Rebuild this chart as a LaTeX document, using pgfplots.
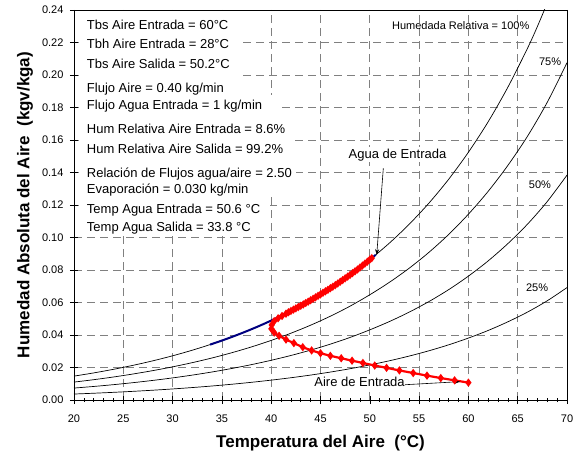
\documentclass[border=0pt]{standalone}
\usepackage{pgfplots}
\pgfplotsset{compat=1.18}
\usepackage{fontspec}
\setmainfont{Liberation Sans}
\usetikzlibrary{arrows.meta}
\definecolor{navyb}{RGB}{0,0,128}
\begin{document}
\begin{tikzpicture}
\begin{axis}[
 name=ax,
 width=493pt,height=390pt,scale only axis,
 xmin=20,xmax=70,ymin=0,ymax=0.24,
 xtick={20,25,...,70},
 ytick={0,0.02,0.04,0.06,0.08,0.10,0.12,0.14,0.16,0.18,0.20,0.22,0.24},
 minor x tick num=4,
 xtick pos=bottom, ytick pos=left,
 tick align=center, major tick length=8pt, minor tick length=4pt,
 tick style={black, line width=0.6pt},
 grid=major,
 major grid style={gray, line width=0.7pt, dash pattern=on 8pt off 5pt},
 axis line style={black,line width=0.9pt},
 /pgf/number format/assume math mode=true,
 ticklabel style={font=\fontsize{11}{13}\selectfont},
 yticklabel style={xshift=-3pt,/pgf/number format/.cd,fixed,fixed zerofill,precision=2},
 xticklabel style={yshift=-7pt},
 xlabel={\textbf{Temperatura del Aire\ \ (°C)}},
 ylabel={\textbf{Humedad Absoluta del Aire\ \ (kgv/kga)}},
 label style={font=\fontsize{17}{20}\selectfont},
 xlabel style={at={(axis description cs:0.5,-0.110)},anchor=center},
 ylabel style={at={(axis description cs:-0.0994,0.5)},anchor=center},
]
% Relative humidity curves
\addplot[black, line width=0.7pt, smooth] coordinates {
(20,0.014698)(22,0.016672)(24,0.018880)(26,0.021353)(28,0.024117)(30,0.027205)
(32,0.030654)(34,0.034495)(36,0.038783)(38,0.043563)(40,0.048890)(42,0.054806)
(44,0.061396)(46,0.068759)(48,0.077010)(50,0.086350)(52,0.096633)(54,0.108182)
(56,0.121183)(58,0.135848)(60,0.152463)(62,0.171165)(64,0.192454)(66,0.216511)
(67,0.229884)(68,0.244324)};
\addplot[black, line width=0.7pt, smooth] coordinates {
(20,0.011024)(22,0.012504)(24,0.014160)(26,0.016015)(28,0.018088)(30,0.020404)
(32,0.022991)(34,0.025871)(36,0.029087)(38,0.032672)(40,0.036668)(42,0.041105)
(44,0.046047)(46,0.051569)(48,0.057758)(50,0.064763)(52,0.072475)(54,0.081137)
(56,0.090887)(58,0.101886)(60,0.114347)(62,0.128374)(64,0.144341)(66,0.162383)
(68,0.183243)(70,0.207574)};
\addplot[black, line width=0.7pt, smooth] coordinates {
(20,0.007349)(22,0.008336)(24,0.009440)(26,0.010677)(28,0.012059)(30,0.013603)
(32,0.015327)(34,0.017248)(36,0.019392)(38,0.021782)(40,0.024445)(42,0.027403)
(44,0.030698)(46,0.034380)(48,0.038505)(50,0.043175)(52,0.048317)(54,0.054091)
(56,0.060592)(58,0.067924)(60,0.076232)(62,0.085583)(64,0.096227)(66,0.108256)
(68,0.122162)(70,0.138383)};
\addplot[black, line width=0.7pt, smooth] coordinates {
(20,0.003675)(22,0.004168)(24,0.004720)(26,0.005338)(28,0.006029)(30,0.006801)
(32,0.007664)(34,0.008624)(36,0.009696)(38,0.010891)(40,0.012223)(42,0.013702)
(44,0.015349)(46,0.017190)(48,0.019253)(50,0.021588)(52,0.024158)(54,0.027046)
(56,0.030296)(58,0.033962)(60,0.038116)(62,0.042791)(64,0.048114)(66,0.054128)
(68,0.061081)(70,0.069191)};
% Water path
\addplot[navyb, line width=2pt, smooth] coordinates {
(33.8,0.03409)(34,0.03450)(35,0.03658)(36,0.03878)(37,0.04111)(38,0.04356)
(39,0.04615)(40,0.04889)(41,0.05177)(42,0.05481)(43,0.05803)(44,0.06140)
(45,0.06505)(46,0.06876)(47,0.07277)(48,0.07701)(49,0.08147)(50,0.08635)(50.6,0.08935)};
% Air path
\addplot[red, line width=2.2pt, mark=diamond*, mark size=2.4pt, mark options={solid}] coordinates {
(60.0,0.0107)(58.6,0.0121)(57.2,0.0135)(55.8,0.0150)(54.4,0.0166)(53.0,0.0182)
(51.7,0.0198)(50.5,0.0212)(49.3,0.0228)(48.2,0.0242)(47.1,0.0257)(46.0,0.0272)
(45.0,0.0288)(44.1,0.0305)(43.2,0.0325)(42.3,0.0350)(41.5,0.0372)(40.8,0.0395)
(40.3,0.0415)(40.02,0.0438)(40.05,0.0462)(40.3,0.0485)(40.7,0.0503)(41.1,0.0517)
(41.5,0.0531)(41.75,0.0540)(42.0,0.0548)(42.25,0.0556)(42.5,0.0564)
(42.75,0.0572)(43.0,0.0580)(43.25,0.0588)(43.5,0.0597)(43.75,0.0605)(44.0,0.0614)
(44.25,0.0623)(44.5,0.0632)(44.75,0.0641)(45.0,0.0650)(45.25,0.0660)(45.5,0.0669)
(45.75,0.0678)(46.0,0.0688)(46.25,0.0697)(46.5,0.0707)(46.75,0.0717)(47.0,0.0728)
(47.25,0.0738)(47.5,0.0749)(47.75,0.0759)(48.0,0.0770)(48.25,0.0781)(48.5,0.0792)
(48.75,0.0803)(49.0,0.0815)(49.25,0.0827)(49.5,0.0839)(49.75,0.0851)(50.0,0.0864)
(50.2,0.0873)};
% white boxes behind the text block
\fill[white] (axis cs:20.5,0.2395) rectangle (axis cs:36.63,0.1877);
\fill[white] (axis cs:20.5,0.1877) rectangle (axis cs:40.69,0.1748);
\fill[white] (axis cs:20.5,0.1748) rectangle (axis cs:42.21,0.1477);
\fill[white] (axis cs:20.5,0.1477) rectangle (axis cs:42.52,0.1249);
\fill[white] (axis cs:20.5,0.1249) rectangle (axis cs:39.88,0.1015);
\begin{scope}[every node/.style={anchor=west, inner xsep=2pt, inner ysep=0pt, text height=10pt, text depth=3pt, font=\fontsize{13}{15}\selectfont}]
\node at (axis cs:21.09,0.2300) {Tbs Aire Entrada = 60°C};
\node at (axis cs:21.09,0.2187) {Tbh Aire Entrada = 28°C};
\node at (axis cs:21.09,0.2060) {Tbs Aire Salida = 50.2°C};
\node at (axis cs:21.09,0.1912) {Flujo Aire = 0.40 kg/min};
\node at (axis cs:21.09,0.1810) {Flujo Agua Entrada = 1 kg/min};
\node at (axis cs:21.09,0.1664) {Hum Relativa Aire Entrada = 8.6\%};
\node at (axis cs:21.09,0.1541) {Hum Relativa Aire Salida = 99.2\%};
\node at (axis cs:21.09,0.1393) {Relación de Flujos agua/aire = 2.50};
\node at (axis cs:21.09,0.1291) {Evaporación = 0.030 kg/min};
\node at (axis cs:21.09,0.1170) {Temp Agua Entrada = 50.6 °C};
\node at (axis cs:21.09,0.1058) {Temp Agua Salida = 33.8 °C};
\end{scope}
\node[font=\fontsize{11}{13}\selectfont, inner sep=1pt] at (axis cs:59.22,0.2306) {Humedada Relativa = 100\%};
\node[font=\fontsize{11}{13}\selectfont, inner sep=1pt] at (axis cs:68.28,0.2080) {75\%};
\node[font=\fontsize{11}{13}\selectfont, inner sep=1pt] at (axis cs:67.26,0.1323) {50\%};
\node[font=\fontsize{11}{13}\selectfont, inner sep=1pt] at (axis cs:66.96,0.0689) {25\%};
\node[fill=white, font=\fontsize{13}{15}\selectfont, inner sep=1pt, text height=10pt, text depth=3pt] at (axis cs:52.81,0.1508) {Agua de Entrada};
\draw[-{Stealth[length=6pt,width=4pt]}, line width=0.6pt] (axis cs:51.37,0.1426) -- (axis cs:50.70,0.0892);
\node[fill=white, font=\fontsize{13}{15}\selectfont, inner sep=1pt, text height=10pt, text depth=3pt] at (axis cs:48.96,0.0103) {Aire de Entrada};
\draw[-{Stealth[length=6pt,width=4pt]}, line width=0.6pt] (axis cs:53.57,0.0094) -- (axis cs:59.15,0.0113);
\end{axis}
\pgfresetboundingbox
\path ([shift={(-74pt,-57pt)}]ax.south west) rectangle ([shift={(17pt,10pt)}]ax.north east);
\end{tikzpicture}
\end{document}
